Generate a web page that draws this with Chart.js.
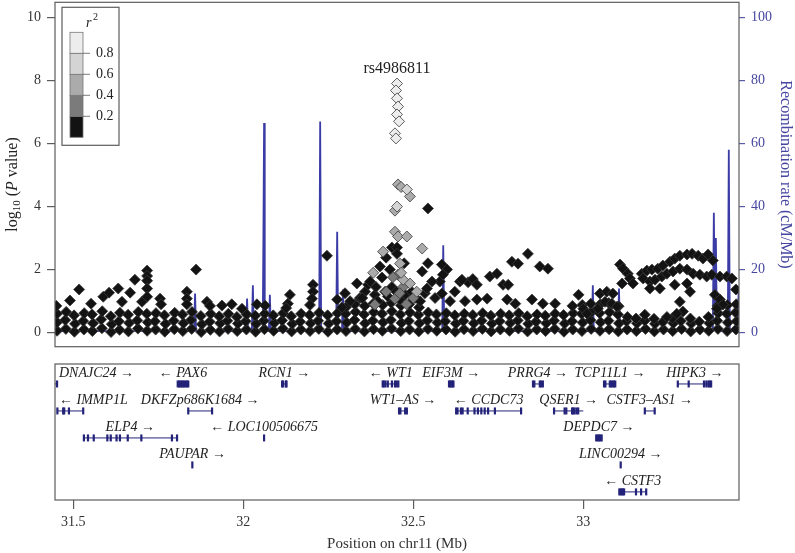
<!DOCTYPE html>
<html>
<head>
<meta charset="utf-8">
<script src="https://cdn.jsdelivr.net/npm/chart.js@4.4.0/dist/chart.umd.min.js"></script>
<style>
body { margin: 0; background: #fff; }
#wrap { position: relative; width: 795px; height: 553px; overflow: hidden; }
canvas { position: absolute; left: 0; }
</style>
</head>
<body>
<div id="wrap">
  <canvas id="assoc" width="795" height="357" style="top:-4px"></canvas>
  <canvas id="genes" width="795" height="198" style="top:355px"></canvas>
</div>
<script>
var serif = "'Liberation Serif', 'DejaVu Serif', serif"

// axes
var xMin = 31.446, xMax = 33.458
var xTicks = [31.5, 32, 32.5, 33]
var pTicks = [0, 2, 4, 6, 8, 10]
var recTicks = [0, 20, 40, 60, 80, 100]

// LD legend
var r2Breaks = [0, 0.2, 0.4, 0.6, 0.8, 1]
var r2Colors = ['#131313', '#7b7b7b', '#ababab', '#d4d4d4', '#ededed']

var leadSnp = 'rs4986811'

// SNPs as [position Mb, -log10 p], grouped by r2 bin
var snpsHigh = [[32.452,7.9],[32.449,7.68],[32.452,7.43],[32.455,7.17],[32.452,6.92],[32.458,6.7],[32.446,6.32],[32.449,6.16]]
var snpsR2b = [[32.481,4.54],[32.452,4.0]]
var snpsR2c = [[32.455,4.7],[32.464,4.62],[32.49,4.32],[32.446,3.87],[32.446,3.2],[32.455,3.05],[32.481,3.05],[32.526,2.67],
  [32.411,2.57],[32.461,2.19],[32.382,1.9],[32.49,1.56],[32.51,1.3],[32.47,1.68],[32.464,1.9]]
var snpsR2d = [[32.455,1.84],[32.44,1.76],[32.446,1.08],[32.387,0.89],[32.47,1.45],[32.5,1.1],[32.48,0.9],[32.42,1.3],[32.46,1.25]]

var snpsLow = [
  [31.49,1.02],[31.517,1.37],[31.552,0.92],[31.588,1.14],[31.605,1.27],[31.632,1.4],[31.643,0.98],[31.667,1.27],[31.681,1.68],[31.702,0.98],
  [31.717,1.97],[31.717,1.8],[31.717,1.65],[31.717,1.4],[31.717,1.14],[31.755,1.08],[31.758,0.9],
  [31.834,1.3],[31.834,1.08],[31.834,0.9],[31.861,2.0],[31.893,0.98],[31.902,0.85],[31.937,0.86],[31.966,0.9],[31.996,0.76],[32.04,0.9],[32.064,0.86],
  [32.137,1.2],[32.131,0.92],[32.126,0.78],[32.205,1.52],[32.205,1.3],[32.202,1.08],[32.196,0.88],
  [32.246,2.44],[32.276,1.05],[32.29,0.8],[32.314,1.0],[32.299,1.25],[32.334,1.56],[32.343,1.1],[32.358,1.3],[32.367,1.52],[32.373,1.62],[32.387,1.2],
  [32.402,2.1],[32.42,2.38],[32.437,2.7],[32.452,2.7],[32.452,2.5],[32.417,1.3],[32.437,1.45],[32.408,1.75],[32.431,2.0],[32.473,2.2],
  [32.476,1.2],[32.505,1.1],[32.534,1.25],[32.564,1.1],[32.608,1.0],[32.622,1.3],[32.652,1.0],
  [32.35,1.1],[32.395,1.0],[32.425,1.15],[32.46,1.05],[32.495,1.3],[32.52,1.0],[32.45,1.3],[32.39,1.45],
  [32.543,3.94],[32.543,2.2],[32.584,2.16],[32.599,2.0],[32.526,1.94],[32.578,1.62],[32.555,1.62],[32.637,1.62],[32.661,1.6],[32.584,1.24],[32.54,1.4],[32.587,1.84],
  [32.643,1.68],[32.675,1.7],[32.687,1.52],[32.725,1.78],[32.746,1.87],[32.764,1.52],[32.779,1.52],[32.79,2.25],[32.808,2.19],[32.837,2.5],
  [32.776,1.05],[32.687,1.05],[32.717,1.08],[32.8,0.92],[32.872,2.1],[32.896,2.03],[32.849,1.05],[32.881,0.92],[32.917,0.92],[32.986,1.2],[33.0,0.76],
  [33.108,2.16],[33.117,2.03],[33.131,1.87],[33.137,1.72],[33.114,1.56],[33.146,1.56],
  [33.172,1.87],[33.187,1.97],[33.202,2.0],[33.219,2.03],[33.234,2.13],[33.255,2.25],[33.269,2.35],[33.284,2.44],[33.305,2.48],[33.32,2.5],
  [33.338,2.44],[33.352,2.35],[33.367,2.48],[33.381,2.29],
  [33.176,1.72],[33.196,1.62],[33.211,1.68],[33.231,1.78],[33.246,1.87],[33.264,1.94],[33.284,2.03],[33.305,2.0],[33.323,1.87],[33.343,1.84],
  [33.363,1.78],[33.378,1.84],[33.402,1.78],[33.422,1.78],[33.437,1.72],
  [33.196,1.4],[33.225,1.4],[33.269,1.52],[33.305,1.56],[33.314,1.3],[33.284,0.98],[33.293,0.67],[33.275,0.6],[33.246,0.5],[33.181,0.57],
  [33.387,1.2],[33.402,1.05],[33.411,0.89],[33.393,0.76],[33.449,1.37],
  [33.049,1.24],[33.069,1.3],[33.087,1.24],[33.064,0.98],[33.084,0.92],[33.099,0.82],[33.043,0.76],[33.011,0.6]
]

// the dense band of weak SNPs near zero
var snpsBand = [
  [31.452,0.06],[31.452,0.33],[31.452,0.6],[31.45,0.85],[31.478,0.12],[31.476,0.4],[31.479,0.66],
  [31.503,0.03],[31.505,0.28],[31.502,0.55],[31.531,0.1],[31.529,0.37],[31.532,0.62],
  [31.556,0.05],[31.558,0.3],[31.555,0.58],[31.584,0.14],[31.582,0.42],[31.585,0.68],
  [31.611,0.02],[31.613,0.27],[31.61,0.52],[31.636,0.09],[31.634,0.36],[31.637,0.63],
  [31.662,0.04],[31.664,0.31],[31.661,0.57],[31.69,0.13],[31.688,0.39],[31.691,0.66],
  [31.717,0.06],[31.719,0.33],[31.716,0.6],[31.742,0.1],[31.74,0.36],[31.743,0.62],
  [31.769,0.03],[31.771,0.28],[31.768,0.55],[31.797,0.11],[31.795,0.38],[31.798,0.63],
  [31.822,0.05],[31.824,0.3],[31.821,0.58],[31.848,0.12],[31.846,0.4],[31.849,0.66],
  [31.876,0.02],[31.878,0.27],[31.875,0.53],[31.903,0.09],[31.901,0.35],[31.904,0.6],
  [31.93,0.04],[31.932,0.3],[31.929,0.52],[31.955,0.12],[31.953,0.38],[31.956,0.6],
  [31.982,0.05],[31.984,0.29],[31.981,0.5],[32.009,0.1],[32.007,0.36],[32.01,0.58],
  [32.036,0.03],[32.038,0.28],[32.035,0.54],[32.062,0.11],[32.06,0.38],[32.063,0.6],
  [32.089,0.06],[32.091,0.31],[32.088,0.55],[32.116,0.13],[32.114,0.39],[32.117,0.62],
  [32.142,0.04],[32.144,0.28],[32.141,0.52],[32.169,0.1],[32.167,0.35],[32.17,0.6],
  [32.196,0.05],[32.198,0.3],[32.195,0.56],[32.222,0.12],[32.22,0.38],[32.223,0.63],
  [32.249,0.03],[32.251,0.29],[32.248,0.55],[32.276,0.1],[32.274,0.36],[32.277,0.62],
  [32.302,0.05],[32.304,0.32],[32.301,0.6],[32.303,0.82],[32.329,0.12],[32.327,0.4],[32.33,0.66],[32.328,0.9],
  [32.356,0.04],[32.358,0.3],[32.355,0.58],[32.357,0.85],[32.383,0.11],[32.381,0.38],[32.384,0.65],[32.382,0.92],
  [32.409,0.06],[32.411,0.33],[32.408,0.6],[32.41,0.88],[32.436,0.13],[32.434,0.4],[32.437,0.68],[32.435,0.95],
  [32.463,0.05],[32.465,0.31],[32.462,0.58],[32.464,0.86],[32.489,0.1],[32.487,0.37],[32.49,0.64],[32.488,0.9],
  [32.516,0.04],[32.518,0.3],[32.515,0.57],[32.517,0.8],[32.543,0.12],[32.541,0.39],[32.544,0.64],
  [32.569,0.06],[32.571,0.32],[32.568,0.58],[32.596,0.1],[32.594,0.36],[32.597,0.62],
  [32.623,0.03],[32.625,0.29],[32.622,0.55],[32.649,0.11],[32.647,0.37],[32.65,0.6],
  [32.676,0.05],[32.678,0.3],[32.675,0.56],[32.703,0.12],[32.701,0.38],[32.704,0.62],
  [32.729,0.04],[32.731,0.29],[32.728,0.54],[32.756,0.1],[32.754,0.36],[32.757,0.6],
  [32.783,0.06],[32.785,0.31],[32.782,0.55],[32.809,0.13],[32.807,0.39],[32.81,0.62],
  [32.836,0.04],[32.838,0.28],[32.835,0.52],[32.863,0.1],[32.861,0.35],[32.864,0.58],
  [32.889,0.05],[32.891,0.3],[32.888,0.54],[32.916,0.12],[32.914,0.38],[32.917,0.6],
  [32.943,0.03],[32.945,0.29],[32.942,0.56],[32.969,0.1],[32.967,0.36],[32.97,0.62],[32.968,0.85],
  [32.996,0.05],[32.998,0.32],[32.995,0.6],[32.997,0.88],[33.023,0.12],[33.021,0.4],[33.024,0.66],[33.022,0.92],
  [33.049,0.06],[33.051,0.33],[33.048,0.62],[33.05,0.9],[33.076,0.11],[33.074,0.38],[33.077,0.65],[33.075,0.94],
  [33.103,0.04],[33.105,0.3],[33.102,0.58],[33.104,0.84],[33.129,0.1],[33.127,0.36],[33.13,0.5],
  [33.156,0.05],[33.158,0.3],[33.155,0.45],[33.183,0.12],[33.181,0.38],
  [33.209,0.04],[33.211,0.28],[33.208,0.44],[33.236,0.1],[33.234,0.34],
  [33.263,0.05],[33.265,0.3],[33.262,0.46],[33.289,0.12],[33.287,0.37],
  [33.316,0.04],[33.318,0.29],[33.315,0.45],[33.343,0.1],[33.341,0.35],
  [33.369,0.06],[33.371,0.3],[33.368,0.5],[33.396,0.12],[33.394,0.38],[33.397,0.62],[33.395,0.85],
  [33.423,0.05],[33.425,0.32],[33.422,0.6],[33.424,0.88],[33.449,0.1],[33.451,0.36],[33.448,0.64],[33.45,0.9]
]

// recombination rate (cM/Mb)
var recombPos = [31.446, 31.855, 31.858, 31.861, 32.008, 32.011, 32.014, 32.025, 32.028, 32.031, 32.057, 32.059, 32.061, 32.063,
  32.075, 32.078, 32.081, 32.223, 32.226, 32.229, 32.273, 32.276, 32.279, 32.29, 32.293, 32.296, 32.585, 32.588, 32.591,
  33.025, 33.028, 33.031, 33.102, 33.105, 33.108, 33.381, 33.384, 33.387, 33.39, 33.393, 33.425, 33.428, 33.431, 33.454, 33.457, 33.458]
var recombRate = [0.5, 0.6, 12.4, 0.6, 0.5, 10.8, 0.5, 0.5, 15, 0.5, 0.6, 30, 66.5, 0.8,
  0.5, 12, 0.5, 0.5, 67, 0.5, 0.6, 32, 0.6, 0.5, 13.7, 0.5, 0.5, 27.7, 0.5,
  0.5, 15, 0.5, 0.5, 14, 0.5, 0.6, 38, 8, 30, 0.6, 0.5, 58, 0.5, 0.5, 14, 5]

// genes
var geneNames = ['DNAJC24', 'PAX6', 'RCN1', 'WT1', 'EIF3M', 'PRRG4', 'TCP11L1', 'HIPK3',
  'IMMP1L', 'DKFZp686K1684', 'WT1\u2013AS', 'CCDC73', 'QSER1', 'CSTF3\u2013AS1',
  'ELP4', 'LOC100506675', 'DEPDC7', 'PAUPAR', 'LINC00294', 'CSTF3']
var geneStart = [31.39, 31.806, 32.114, 32.41, 32.605, 32.852, 33.061, 33.278,
  31.452, 31.838, 32.458, 32.626, 32.914, 33.181, 31.529, 32.06, 33.037, 31.849, 33.109, 33.105]
var geneEnd = [31.454, 31.839, 32.127, 32.457, 32.618, 32.881, 33.096, 33.378,
  31.529, 31.908, 32.482, 32.817, 33.0, 33.21, 31.806, 32.062, 33.055, 31.852, 33.111, 33.186]
var geneRow = [1, 1, 1, 1, 1, 1, 1, 1, 2, 2, 2, 2, 2, 2, 3, 3, 3, 4, 4, 5]
var geneStrand = [1, -1, 1, -1, 1, 1, 1, 1, -1, 1, 1, -1, 1, 1, 1, -1, 1, 1, 1, -1]
var geneExons = [
  [31.452], [31.807, 31.811, 31.815, 31.818, 31.822, 31.826, 31.83, 31.834, 31.838], [32.114, 32.117, 32.125, 32.127],
  [32.41, 32.413, 32.418, 32.425, 32.437, 32.446, 32.451, 32.456], [32.605, 32.608, 32.612, 32.615, 32.618],
  [32.852, 32.856, 32.872, 32.876, 32.881], [33.061, 33.065, 33.078, 33.082, 33.086, 33.09, 33.094],
  [33.278, 33.31, 33.355, 33.362, 33.368, 33.372, 33.376],
  [31.453, 31.47, 31.473, 31.487, 31.529], [31.838, 31.908], [32.458, 32.462, 32.476, 32.481],
  [32.626, 32.63, 32.64, 32.645, 32.66, 32.68, 32.69, 32.7, 32.71, 32.72, 32.74, 32.817],
  [32.914, 32.945, 32.95, 32.967, 32.97, 32.974, 32.98, 32.985], [33.181, 33.21],
  [31.531, 31.543, 31.56, 31.6, 31.61, 31.627, 31.637, 31.66, 31.7, 31.79, 31.805], [32.061],
  [33.038, 33.042, 33.046, 33.05, 33.054], [31.85], [33.11],
  [33.106, 33.11, 33.113, 33.117, 33.12, 33.155, 33.17, 33.185]
]

var frameColor = '#5c5c5c'
var recombColor = '#3b3ba6'
var geneColor = '#23237a'

function pointSet(list, color, order) {
  return {
    data: list.map(function (d) { return { x: d[0], y: d[1] } }),
    backgroundColor: color,
    borderColor: '#3a3a3a',
    borderWidth: 0.8,
    pointStyle: 'rectRot',
    pointRadius: 5.5,
    order: order
  }
}

var framePlugin = {
  id: 'frame',
  afterDatasetsDraw: function (chart) {
    var a = chart.chartArea, ctx = chart.ctx
    ctx.save()
    ctx.strokeStyle = frameColor
    ctx.lineWidth = 1.2
    ctx.strokeRect(a.left, a.top, a.right - a.left, a.bottom - a.top)
    ctx.restore()
  }
}

// r2 colour key, placed just inside the top-left corner of the plot box
var r2Legend = {
  id: 'r2Legend',
  afterDraw: function (chart) {
    var ctx = chart.ctx
    var top = chart.chartArea.top + 5
    var barX = 70, barW = 13, barTop = top + 25, barBottom = top + 130
    var segH = (barBottom - barTop) / r2Colors.length
    ctx.save()
    ctx.fillStyle = '#fff'
    ctx.fillRect(62, top, 57, 138)
    ctx.strokeStyle = frameColor
    ctx.lineWidth = 1.2
    ctx.strokeRect(62, top, 57, 138)
    ctx.lineWidth = 0.8
    for (var i = 0; i < r2Colors.length; i++) {
      var y0 = barBottom - (i + 1) * segH
      ctx.fillStyle = r2Colors[i]
      ctx.fillRect(barX, y0, barW, segH)
      ctx.strokeStyle = '#777'
      ctx.strokeRect(barX, y0, barW, segH)
    }
    ctx.strokeStyle = frameColor
    ctx.fillStyle = '#222'
    ctx.font = '14px ' + serif
    ctx.textBaseline = 'middle'
    for (var j = 1; j < r2Breaks.length - 1; j++) {
      var y = barBottom - j * segH
      ctx.beginPath()
      ctx.moveTo(barX + barW, y)
      ctx.lineTo(barX + barW + 7, y)
      ctx.stroke()
      ctx.fillText(r2Breaks[j].toFixed(1), barX + barW + 13, y)
    }
    ctx.font = 'italic 14px ' + serif
    ctx.fillText('r', 86, top + 16)
    ctx.font = '10px ' + serif
    ctx.fillText('2', 93, top + 10)
    ctx.restore()
  }
}

var leadLabel = {
  id: 'leadLabel',
  afterDatasetsDraw: function (chart) {
    var top = snpsHigh.reduce(function (a, b) { return b[1] > a[1] ? b : a })
    var ctx = chart.ctx
    var px = chart.scales.x.getPixelForValue(top[0])
    var py = chart.scales.y.getPixelForValue(top[1])
    ctx.save()
    ctx.font = '16px ' + serif
    ctx.fillStyle = '#222'
    ctx.textAlign = 'center'
    ctx.textBaseline = 'middle'
    ctx.fillText(leadSnp, px, py - 15)
    ctx.restore()
  }
}

var leftTitle = {
  id: 'leftTitle',
  afterDraw: function (chart) {
    var ctx = chart.ctx
    var parts = [['log', '16px ', 0], ['10', '11px ', 4], [' (', '16px ', 0], ['P', 'italic 16px ', 0], [' value)', '16px ', 0]]
    var total = 0
    var a = chart.chartArea
    ctx.save()
    parts.forEach(function (p) { ctx.font = p[1] + serif; total += ctx.measureText(p[0]).width })
    ctx.translate(13, (a.top + a.bottom) / 2 + 10)
    ctx.rotate(-Math.PI / 2)
    ctx.fillStyle = '#222'
    ctx.textBaseline = 'middle'
    var x = -total / 2
    parts.forEach(function (p) {
      ctx.font = p[1] + serif
      ctx.fillText(p[0], x, p[2])
      x += ctx.measureText(p[0]).width
    })
    ctx.restore()
  }
}

var geneLabels = {
  id: 'geneLabels',
  afterDatasetsDraw: function (chart) {
    var ctx = chart.ctx, a = chart.chartArea
    var xs = chart.scales.x, ys = chart.scales.y
    ctx.save()
    ctx.font = 'italic 14px ' + serif
    ctx.fillStyle = '#222'
    ctx.textBaseline = 'middle'
    for (var i = 0; i < geneNames.length; i++) {
      var text = geneStrand[i] > 0 ? geneNames[i] + ' \u2192' : '\u2190 ' + geneNames[i]
      var w = ctx.measureText(text).width
      var cx = (xs.getPixelForValue(geneStart[i]) + xs.getPixelForValue(geneEnd[i])) / 2
      var left = cx - w / 2
      if (left < a.left + 4) left = a.left + 4
      if (left + w > a.right - 4) left = a.right - 4 - w
      ctx.fillText(text, left, ys.getPixelForValue(geneRow[i]) - 11)
    }
    ctx.restore()
  }
}

function fixedTicks(list) {
  return function (scale) { scale.ticks = list.map(function (v) { return { value: v } }) }
}

// keep the plot box where it is: no extra room for the end tick labels
function noEndPadding(width) {
  return function (s) {
    s.width = width
    s.paddingTop = 0
    s.paddingBottom = 0
  }
}

// association panel
new Chart(document.getElementById('assoc'), {
  type: 'scatter',
  data: {
    datasets: [
      pointSet(snpsHigh, r2Colors[4], 1),
      pointSet(snpsR2b, r2Colors[3], 2),
      pointSet(snpsR2c, r2Colors[2], 3),
      pointSet(snpsR2d, r2Colors[1], 4),
      pointSet(snpsBand.concat(snpsLow), r2Colors[0], 5),
      {
        data: recombPos.map(function (p, i) { return { x: p, y: recombRate[i] } }),
        yAxisID: 'y2',
        showLine: true,
        borderColor: recombColor,
        borderWidth: 1.8,
        pointRadius: 0,
        tension: 0,
        order: 10
      }
    ]
  },
  options: {
    responsive: false,
    animation: false,
    layout: { padding: { top: 1, bottom: 5, left: 0, right: 0 } },
    plugins: { legend: { display: false }, tooltip: { enabled: false } },
    scales: {
      x: { type: 'linear', min: xMin, max: xMax, display: false },
      y: {
        position: 'left', min: -0.444, max: 10.476,
        afterBuildTicks: fixedTicks(pTicks),
        afterFit: noEndPadding(55),
        grid: { drawOnChartArea: false, tickLength: 8, color: frameColor, lineWidth: 1.2 },
        border: { display: false },
        ticks: { font: { family: serif, size: 14 }, color: '#333', padding: 6 }
      },
      y2: {
        position: 'right', min: -4.444, max: 104.76,
        afterBuildTicks: fixedTicks(recTicks),
        afterFit: noEndPadding(56),
        grid: { drawOnChartArea: false, tickLength: 6, color: '#5a5aa8', lineWidth: 1.2 },
        border: { display: false },
        ticks: { font: { family: serif, size: 14 }, color: '#4646a0', padding: 6 },
        title: { display: true, text: 'Recombination rate (cM/Mb)', color: '#4646a0', font: { family: serif, size: 16 }, padding: { top: 0, bottom: 0 } }
      }
    }
  },
  plugins: [framePlugin, r2Legend, leadLabel, leftTitle]
})

// gene track
var geneSets = geneNames.map(function (name, i) {
  return {
    data: [{ x: geneStart[i], y: geneRow[i] }, { x: geneEnd[i], y: geneRow[i] }],
    showLine: true,
    borderColor: geneColor,
    borderWidth: 1,
    pointRadius: 0
  }
})
var exonPoints = []
geneExons.forEach(function (list, i) {
  list.forEach(function (p) { exonPoints.push({ x: p, y: geneRow[i] }) })
})
geneSets.push({
  data: exonPoints,
  pointStyle: 'line',
  rotation: 90,
  pointRadius: 3.5,
  borderWidth: 2.2,
  borderColor: geneColor
})

new Chart(document.getElementById('genes'), {
  type: 'scatter',
  data: { datasets: geneSets },
  options: {
    responsive: false,
    animation: false,
    layout: { padding: { left: 55, right: 56, top: 9, bottom: 0 } },
    plugins: { legend: { display: false }, tooltip: { enabled: false } },
    scales: {
      x: {
        type: 'linear', min: xMin, max: xMax,
        afterBuildTicks: fixedTicks(xTicks),
        afterFit: function (s) { s.height = 53 },
        grid: { drawOnChartArea: false, tickLength: 9, color: frameColor, lineWidth: 1.2 },
        border: { display: false },
        ticks: { font: { family: serif, size: 14 }, color: '#333', padding: 5, maxRotation: 0, autoSkip: false,
          callback: function (v) { return String(v) } },
        title: { display: true, text: 'Position on chr11 (Mb)', color: '#333', font: { family: serif, size: 15 }, padding: { top: 0, bottom: 0 } }
      },
      y: { type: 'linear', reverse: true, min: 0.26, max: 5.3, display: false }
    }
  },
  plugins: [framePlugin, geneLabels]
})
</script>
</body>
</html>
